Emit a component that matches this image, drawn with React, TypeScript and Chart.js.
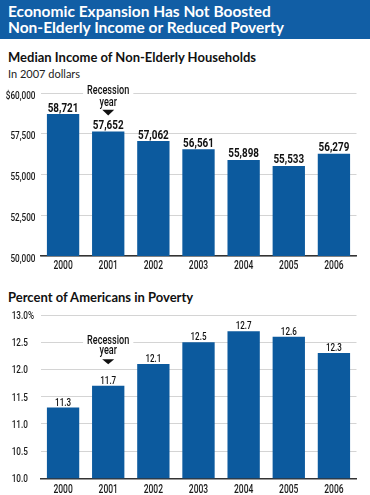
import React, { useEffect, useRef } from 'react';
import { Chart, registerables } from 'chart.js';
Chart.register(...registerables);

const years = ['2000', '2001', '2002', '2003', '2004', '2005', '2006'];
const incomeValues = [58721, 57652, 57062, 56561, 55898, 55533, 56279];
const povertyValues = [11.3, 11.7, 12.1, 12.5, 12.7, 12.6, 12.3];
const incomeRange = [50000, 60000, 2500];
const povertyRange = [10, 13, 0.5];
const recessionYear = '2001';

const BLUE = '#0c5a9e';
const NUMFONT = 'Roboto, "Liberation Sans", sans-serif';
const SANS = 'Lato, "Open Sans", sans-serif';

function drawNarrow(ctx: any, text: string, x: number, y: number, font: string, sx: number, align: string) {
  ctx.save();
  ctx.font = font;
  ctx.textAlign = align;
  ctx.textBaseline = 'alphabetic';
  ctx.translate(x, y);
  ctx.scale(sx, 1);
  ctx.fillText(text, 0, 0);
  ctx.restore();
}

function makeTextPlugin(cfg: any) {
  return {
    id: 'texts',
    afterDraw(chart: any) {
      const ctx = chart.ctx;
      const ys = chart.scales.y;
      const xs = chart.scales.x;
      ctx.save();
      ctx.fillStyle = '#1a1a1a';
      ys.ticks.forEach((t: any) => {
        const py = ys.getPixelForValue(t.value);
        drawNarrow(ctx, cfg.tickFmt(t.value), cfg.yX, py + cfg.yBaseOff, `500 10.5px ${NUMFONT}`, 0.78, cfg.yAlign);
      });
      chart.data.labels.forEach((lab: string, i: number) => {
        const px = xs.getPixelForTick(i);
        drawNarrow(ctx, lab, px, chart.chartArea.bottom + cfg.xOff, `500 12.5px ${NUMFONT}`, 0.68, 'center');
      });
      const meta = chart.getDatasetMeta(0);
      const data = chart.data.datasets[0].data as number[];
      ctx.fillStyle = '#111';
      meta.data.forEach((bar: any, i: number) => {
        drawNarrow(ctx, cfg.labelFmt(data[i]), bar.x, bar.y - cfg.valOff, cfg.valFont, cfg.valScale, 'center');
        if (chart.data.labels[i] === recessionYear) {
          const a = cfg.ann;
          ctx.beginPath();
          ctx.moveTo(bar.x - 6, bar.y - a.triTop);
          ctx.lineTo(bar.x + 6, bar.y - a.triTop);
          ctx.lineTo(bar.x, bar.y - a.triBot);
          ctx.closePath();
          ctx.fill();
          const font = `500 12px ${NUMFONT}`;
          drawNarrow(ctx, 'year', bar.x, bar.y - a.year, font, 0.76, 'center');
          ctx.font = font;
          const w = ctx.measureText('Recession').width * 0.76;
          ctx.fillStyle = '#fff';
          ctx.fillRect(bar.x - w / 2 - 4, bar.y - a.rec - 10, w + 8, 12);
          ctx.fillStyle = '#111';
          drawNarrow(ctx, 'Recession', bar.x, bar.y - a.rec, font, 0.76, 'center');
        }
      });
      ctx.restore();
    },
  };
}

function BarChart({ values, range, cfg, padTop, xHeight }: any) {
  const ref = useRef<HTMLCanvasElement>(null);
  useEffect(() => {
    const chart = new Chart(ref.current!, {
      type: 'bar',
      data: {
        labels: years,
        datasets: [{ data: values, backgroundColor: BLUE, categoryPercentage: 1, barPercentage: 0.716 }],
      },
      options: {
        animation: false,
        responsive: false,
        events: [],
        layout: { padding: { top: padTop, right: 13.5, left: 0, bottom: 0 } },
        plugins: { legend: { display: false }, tooltip: { enabled: false } },
        scales: {
          x: {
            grid: { display: false, drawTicks: false },
            border: { color: '#333', width: 1.5 },
            ticks: { display: false },
            afterFit: (s: any) => { s.height = xHeight; },
          },
          y: {
            min: range[0],
            max: range[1],
            border: { display: false },
            grid: { color: '#d4d4d4', lineWidth: 1, drawTicks: false },
            ticks: { display: false, stepSize: range[2] },
            afterFit: (s: any) => { s.width = 40.5; },
          },
        },
      },
      plugins: [makeTextPlugin(cfg)],
    } as any);
    return () => chart.destroy();
  }, []);
  return <canvas ref={ref} width={370} height={195} style={{ display: 'block' }} />;
}

const fmtInt = (v: number) => v.toLocaleString('en-US');

const incomeCfg = {
  tickFmt: (v: number) => (v === incomeRange[1] ? '$' : '') + fmtInt(v),
  labelFmt: fmtInt,
  yX: 35.5,
  yAlign: 'right',
  yBaseOff: 5.5,
  xOff: 13,
  valFont: `bold 13px ${NUMFONT}`,
  valScale: 0.76,
  valOff: 2.6,
  ann: { triTop: 21.7, triBot: 16, year: 26, rec: 37.4 },
};

const povertyCfg = {
  tickFmt: (v: number) => v.toFixed(1) + (v === povertyRange[1] ? '%' : ''),
  labelFmt: (v: number) => v.toFixed(1),
  yX: 11.7,
  yAlign: 'left',
  yBaseOff: 4,
  xOff: 14.4,
  valFont: `500 11.5px ${NUMFONT}`,
  valScale: 0.7,
  valOff: 2,
  ann: { triTop: 26.4, triBot: 21.4, year: 31.7, rec: 41.7 },
};

export default function App() {
  useEffect(() => {
    document.body.style.margin = '0';
  }, []);
  return (
    <div style={{ position: 'relative', width: 370, height: 495, background: '#fff', overflow: 'hidden' }}>
      <div style={{ position: 'absolute', left: 0, top: 0, width: 370, height: 39, background: '#115ea5' }} />
      <div style={{ position: 'absolute', left: 8, top: 3, color: '#fff', font: `bold 15.5px/16px ${SANS}` }}>
        Economic Expansion Has Not Boosted<br />Non-Elderly Income or Reduced Poverty
      </div>
      <div style={{ position: 'absolute', left: 8, top: 49, color: '#111', font: `bold 13px/16px ${SANS}` }}>
        Median Income of Non-Elderly Households
      </div>
      <div style={{ position: 'absolute', left: 8, top: 67, color: '#222', font: `normal 11px/14px ${SANS}` }}>
        In 2007 dollars
      </div>
      <div style={{ position: 'absolute', left: 0, top: 80 }}>
        <BarChart values={incomeValues} range={incomeRange} cfg={incomeCfg} padTop={13.3} xHeight={19} />
      </div>
      <div style={{ position: 'absolute', left: 8, top: 289, color: '#111', font: `bold 13px/16px ${SANS}` }}>
        Percent of Americans in Poverty
      </div>
      <div style={{ position: 'absolute', left: 0, top: 300 }}>
        <BarChart values={povertyValues} range={povertyRange} cfg={povertyCfg} padTop={15} xHeight={16.7} />
      </div>
    </div>
  );
}
